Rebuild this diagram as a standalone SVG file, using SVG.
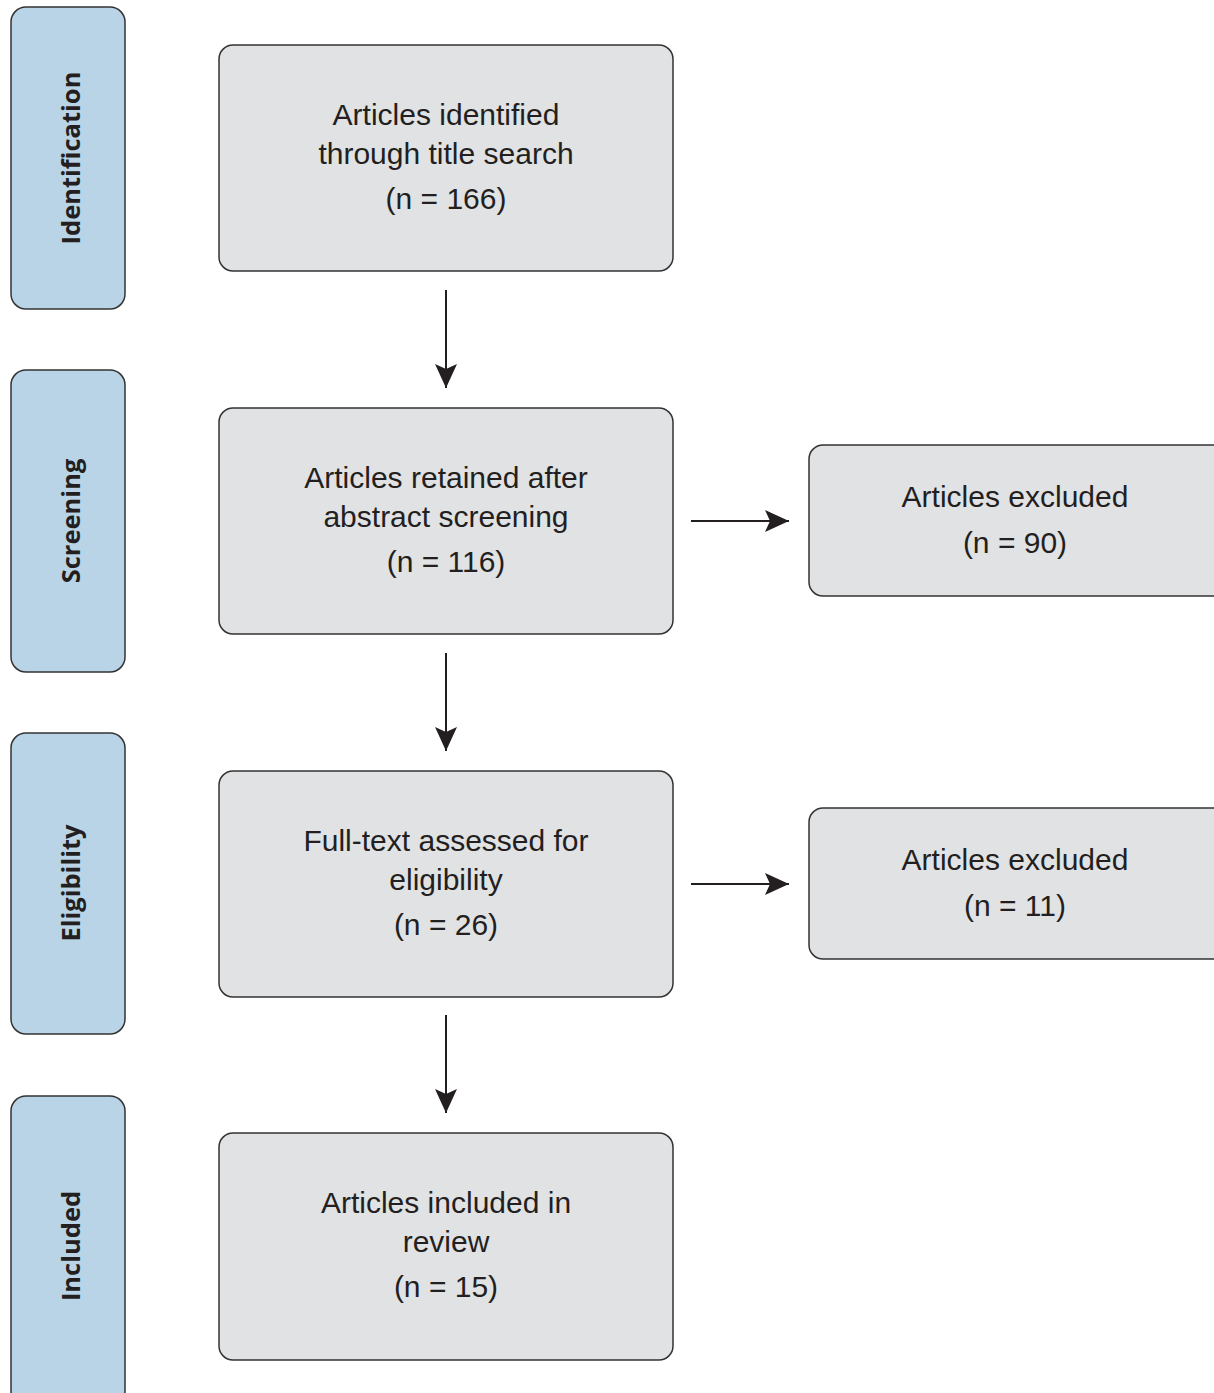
<svg xmlns="http://www.w3.org/2000/svg" width="1214" height="1393" viewBox="0 0 1214 1393">
<style>
.side{fill:#b9d4e6;stroke:#333;stroke-width:1.5}
.box{fill:#e1e2e4;stroke:#333;stroke-width:1.5}
.st{font-family:"Open Sans","Liberation Sans",sans-serif;font-weight:bold;font-size:25.5px;fill:#231f20;text-anchor:middle}
.t{font-family:"Liberation Sans",Arial,sans-serif;font-size:30px;fill:#231f20;text-anchor:middle}
.c{stroke:#231f20;stroke-width:2;fill:none}
</style>
<defs>
<marker id="ah" viewBox="0 0 24 22" refX="24" refY="11" markerWidth="24" markerHeight="22" markerUnits="userSpaceOnUse" orient="auto">
<path d="M0,0 L24,11 L0,22 L5,11 Z" fill="#231f20"/>
</marker>
</defs>
<g id="stage-identification">
<rect class="side" x="11" y="7" width="114" height="302" rx="15"/>
<text class="st" transform="translate(80,158) rotate(-90)">Identification</text>
</g>
<g id="stage-screening">
<rect class="side" x="11" y="370" width="114" height="302" rx="15"/>
<text class="st" transform="translate(80,521) rotate(-90)">Screening</text>
</g>
<g id="stage-eligibility">
<rect class="side" x="11" y="733" width="114" height="301" rx="15"/>
<text class="st" transform="translate(80,883) rotate(-90)">Eligibility</text>
</g>
<g id="stage-included">
<rect class="side" x="11" y="1096" width="114" height="310" rx="15"/>
<text class="st" transform="translate(80,1246) rotate(-90)">Included</text>
</g>
<g id="node-identified">
<rect class="box" x="219" y="45" width="454" height="226" rx="14"/>
<text class="t" x="446" y="125">Articles identified</text>
<text class="t" x="446" y="164">through title search</text>
<text class="t" x="446" y="209">(n = 166)</text>
</g>
<g id="node-screened">
<rect class="box" x="219" y="408" width="454" height="226" rx="14"/>
<text class="t" x="446" y="488">Articles retained after</text>
<text class="t" x="446" y="527">abstract screening</text>
<text class="t" x="446" y="572">(n = 116)</text>
</g>
<g id="node-excluded-1">
<rect class="box" x="809" y="445" width="420" height="151" rx="14"/>
<text class="t" x="1015" y="507">Articles excluded</text>
<text class="t" x="1015" y="553">(n = 90)</text>
</g>
<g id="node-eligibility">
<rect class="box" x="219" y="771" width="454" height="226" rx="14"/>
<text class="t" x="446" y="851">Full-text assessed for</text>
<text class="t" x="446" y="890">eligibility</text>
<text class="t" x="446" y="935">(n = 26)</text>
</g>
<g id="node-excluded-2">
<rect class="box" x="809" y="808" width="420" height="151" rx="14"/>
<text class="t" x="1015" y="870">Articles excluded</text>
<text class="t" x="1015" y="916">(n = 11)</text>
</g>
<g id="node-included">
<rect class="box" x="219" y="1133" width="454" height="227" rx="14"/>
<text class="t" x="446" y="1213">Articles included in</text>
<text class="t" x="446" y="1252">review</text>
<text class="t" x="446" y="1297">(n = 15)</text>
</g>
<g id="connectors">
<line class="c" x1="446" y1="290" x2="446" y2="388" marker-end="url(#ah)"/>
<line class="c" x1="446" y1="653" x2="446" y2="751" marker-end="url(#ah)"/>
<line class="c" x1="446" y1="1015" x2="446" y2="1113" marker-end="url(#ah)"/>
<line class="c" x1="691" y1="521" x2="789" y2="521" marker-end="url(#ah)"/>
<line class="c" x1="691" y1="884" x2="789" y2="884" marker-end="url(#ah)"/>
</g>
</svg>
